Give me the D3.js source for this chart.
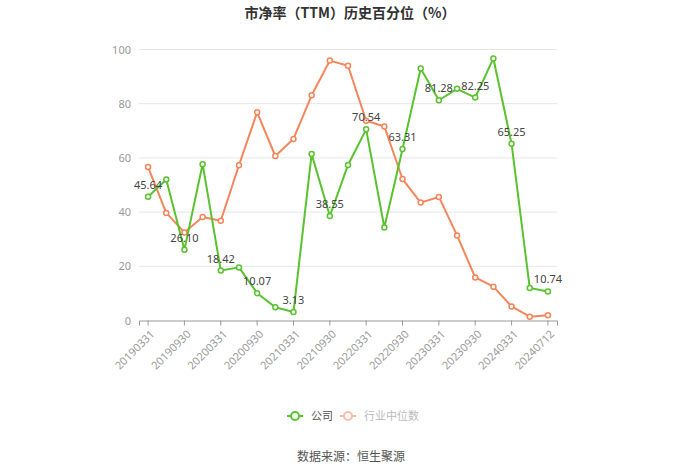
<!DOCTYPE html>
<html><head><meta charset="utf-8">
<script src="https://cdn.jsdelivr.net/npm/d3@7"></script>
<style>body{margin:0;background:#fff;}svg{display:block;font-family:"Microsoft YaHei","Noto Sans CJK SC",sans-serif;}</style>
</head><body>
<svg id="c" width="700" height="474"></svg>
<script>
const categories = ["20190331","20190630","20190930","20191231","20200331","20200630","20200930","20201231","20210331","20210630","20210930","20211231","20220331","20220630","20220930","20221231","20230331","20230630","20230930","20231231","20240331","20240630","20240712"];
const companyValues = [45.64,52.0,26.10,57.7,18.42,19.6,10.07,4.9,3.13,61.4,38.55,57.4,70.54,34.3,63.31,93.0,81.28,85.5,82.25,96.7,65.25,12.0,10.74];
const industryValues = [56.6,39.7,32.5,38.2,36.8,57.3,76.8,60.7,67.0,83.1,95.9,94.0,73.7,71.6,52.2,43.5,45.6,31.4,15.9,12.5,5.2,1.4,1.9];
const yTicks = [0,20,40,60,80,100];
const labelIndices = [0,2,4,6,8,10,12,14,16,18,20,22];
const seriesNames = ["公司","行业中位数"];
const titleText = "市净率（TTM）历史百分位（%）";
const sourceText = "数据来源：恒生聚源";

const green = "#5ac22f", orange = "#f5855a";
const svg = d3.select("#c");
const pLeft = 139, pRight = 557, pTop = 49.5, pBottom = 320.5;
const x = d3.scaleBand().domain(categories).range([pLeft, pRight]);
const cx = d => x(d) + x.bandwidth()/2;
const y = d3.scaleLinear().domain([0,100]).range([pBottom, pTop]);

svg.append("text").attr("x",350).attr("y",18).attr("text-anchor","middle")
  .attr("font-size",14).attr("font-weight","bold").attr("fill","#333").text(titleText);

// grid
svg.append("g").selectAll("line").data(yTicks.filter(t=>t>0)).join("line")
  .attr("x1",pLeft).attr("x2",pRight).attr("y1",d=>y(d)).attr("y2",d=>y(d))
  .attr("stroke","#e6e6e6").attr("stroke-width",1);

// y axis
const ya = svg.append("g").attr("transform",`translate(${pLeft},0)`)
  .call(d3.axisLeft(y).tickValues(yTicks).tickSize(0).tickPadding(8));
ya.select(".domain").remove();
ya.selectAll("text").attr("fill","#999").attr("font-size",11).attr("font-family","Noto Sans, sans-serif");

// x axis
const xa = svg.append("g").attr("transform",`translate(0,${pBottom})`)
  .call(d3.axisBottom(x).tickValues(categories.filter((c,i)=>i%2===0)).tickSize(5).tickPadding(4));
xa.select(".domain").attr("stroke","#999");
xa.selectAll(".tick line").attr("stroke","#999");
xa.selectAll("text").attr("fill","#999").attr("font-size",11).attr("font-family","Noto Sans, sans-serif")
  .attr("text-anchor","end").attr("dy","0.3em").attr("dx","-0.2em")
  .attr("transform","translate(0,4) rotate(-45)");

function drawSeries(vals, color){
  const line = d3.line().x((d,i)=>cx(categories[i])).y(d=>y(d));
  svg.append("path").datum(vals).attr("d",line).attr("fill","none")
    .attr("stroke",color).attr("stroke-width",2).attr("stroke-linejoin","round");
  svg.append("g").selectAll("circle").data(vals).join("circle")
    .attr("cx",(d,i)=>cx(categories[i])).attr("cy",d=>y(d)).attr("r",2.5)
    .attr("fill","#fff").attr("stroke",color).attr("stroke-width",1.5);
}
drawSeries(industryValues, orange);
drawSeries(companyValues, green);

svg.append("g").selectAll("text").data(labelIndices).join("text")
  .attr("x",i=>cx(categories[i])).attr("y",i=>y(companyValues[i])-8)
  .attr("text-anchor","middle").attr("font-size",11).attr("fill","#444")
  .attr("font-family","Noto Sans, sans-serif")
  .text(i=>companyValues[i].toFixed(2));

// legend
const lg = svg.append("g");
const items = [{name:seriesNames[0], color:green, text:"#555", x:287},{name:seriesNames[1], color:"#f8bfa6", text:"#bbb", x:340}];
items.forEach(it=>{
  lg.append("line").attr("x1",it.x).attr("x2",it.x+16).attr("y1",416).attr("y2",416).attr("stroke",it.color).attr("stroke-width",2);
  lg.append("circle").attr("cx",it.x+8).attr("cy",416).attr("r",4).attr("fill","#fff").attr("stroke",it.color).attr("stroke-width",2);
  lg.append("text").attr("x",it.x+24).attr("y",420).attr("font-size",11).attr("fill",it.text).text(it.name);
});

svg.append("text").attr("x",351).attr("y",461).attr("text-anchor","middle")
  .attr("font-size",12).attr("fill","#555").text(sourceText);
</script>
</body></html>
